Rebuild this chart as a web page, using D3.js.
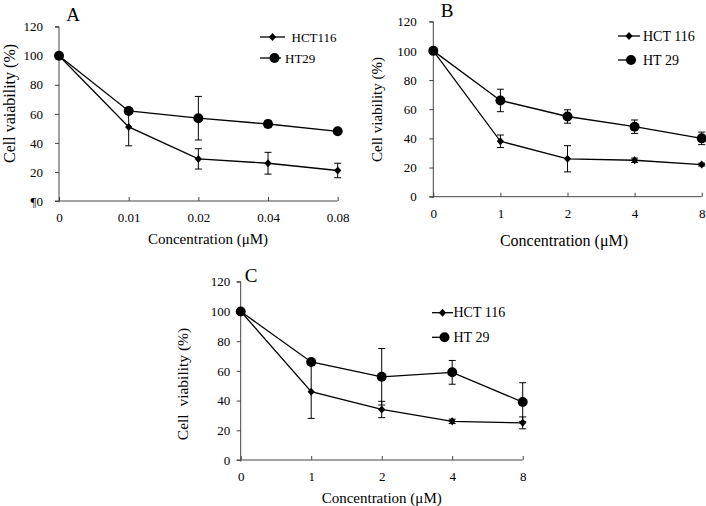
<!DOCTYPE html>
<html><head><meta charset="utf-8">
<script src="https://cdn.jsdelivr.net/npm/d3@7"></script>
<style>body{margin:0;background:#fff}svg{display:block}text{font-family:"Liberation Serif","Times New Roman",serif;fill:#000}</style>
</head><body>
<svg id="c" width="706" height="506"></svg>
<script>
// ---- data ----
const catsA = ["0","0.01","0.02","0.04","0.08"];
const catsBC = ["0","1","2","4","8"];
const yTicks = [0,20,40,60,80,100,120];

const A_hct = [100,51,29,26,21];
const A_hctErr = [0,13,7,7.5,5];
const A_ht = [100,62,57,53,48];
const A_htErr = [0,2,15,2.5,1];

const B_hct = [100,38,26,25,22];
const B_hctErr = [0,4.3,9,1.5,1];
const B_ht = [100,66,55,48,40];
const B_htErr = [0,7.7,4.6,4.6,4.3];

const C_hct = [100,46,34,26,25];
const C_hctErr = [0,18,5.5,1.5,4];
const C_ht = [100,66,56,59,39];
const C_htErr = [0,1,19,8,13];

const legendA = ["HCT116","HT29"];
const legendBC = ["HCT 116","HT 29"];
const yTitles = ["Cell vaiability (%)","Cell viability (%)","Cell  viability (%)"];
const xTitle = "Concentration (\u03bcM)";
const letters = ["A","B","C"];
const zeroLabels = ["\u00b60","0","0"];

// ---- layout ----
const panels = [
 {cats:catsA, hct:A_hct, hctE:A_hctErr, ht:A_ht, htE:A_htErr, leg:legendA,
  x:[59,337.7], y:[201,26.7], ylabPad:16, letter:[73,14], ytitle:[9,103.5,16], xtitle:[208,239,15],
  legLine:[260,285], legText:[291.5,285], legY:[37,58], legFs:13},
 {cats:catsBC, hct:B_hct, hctE:B_hctErr, ht:B_ht, htE:B_htErr, leg:legendBC,
  x:[433.3,701.7], y:[196.7,21.7], ylabPad:16.5, letter:[447,10.5], ytitle:[377,109.5,15], xtitle:[564,240,16],
  legLine:[618,640], legText:[643,643], legY:[36,60], legFs:14},
 {cats:catsBC, hct:C_hct, hctE:C_hctErr, ht:C_ht, htE:C_htErr, leg:legendBC,
  x:[240.7,522.7], y:[460,281.7], ylabPad:10.5, letter:[251,275], ytitle:[182,384,15.5], xtitle:[381.7,498,15],
  legLine:[432,453], legText:[453.5,453.5], legY:[312.7,337.3], legFs:14}
];

const svg = d3.select("#c");
const axisColor = "#444";

panels.forEach((p,pi)=>{
  const g = svg.append("g");
  const x = d3.scalePoint().domain(p.cats).range(p.x).padding(0);
  const y = d3.scaleLinear().domain([0,120]).range(p.y);

  // y axis
  const ya = g.append("g").attr("transform",`translate(${p.x[0]},0)`)
    .call(d3.axisLeft(y).tickValues(yTicks).tickSize(4).tickPadding(p.ylabPad-4)
      .tickFormat((d)=> d===0 ? zeroLabels[pi] : d));
  ya.select(".domain").attr("stroke",axisColor).attr("d",`M-4,${p.y[1]}H0V${p.y[0]+1.5}`);
  ya.selectAll(".tick line").attr("stroke",axisColor);
  ya.selectAll("text").attr("font-size",13).attr("font-family","Liberation Serif").attr("fill","#000");

  // x axis
  const xa = g.append("g").attr("transform",`translate(0,${p.y[0]})`)
    .call(d3.axisBottom(x).tickSize(-4).tickPadding(12));
  xa.select(".domain").attr("stroke",axisColor).attr("d",`M${p.x[0]-4},0H${p.x[1]}`);
  xa.selectAll(".tick line").attr("stroke",axisColor);
  xa.selectAll("text").attr("font-size",13).attr("font-family","Liberation Serif").attr("fill","#000");

  const line = d3.line().x((d,i)=>x(p.cats[i])).y(d=>y(d));
  [[p.hct,p.hctE,"diamond"],[p.ht,p.htE,"circle"]].forEach(([vals,errs,shape])=>{
    // error bars
    vals.forEach((v,i)=>{
      if(!errs[i]) return;
      const cx = x(p.cats[i]);
      g.append("path").attr("fill","none").attr("stroke","#000").attr("stroke-width",1)
        .attr("d",`M${cx},${y(v-errs[i])}V${y(v+errs[i])}M${cx-3.5},${y(v-errs[i])}h7M${cx-3.5},${y(v+errs[i])}h7`);
    });
    g.append("path").datum(vals).attr("fill","none").attr("stroke","#000").attr("stroke-width",1.3).attr("d",line);
    vals.forEach((v,i)=>{
      const cx = x(p.cats[i]), cy = y(v);
      if(shape==="circle") g.append("circle").attr("cx",cx).attr("cy",cy).attr("r",5).attr("fill","#000");
      else g.append("path").attr("d",`M${cx},${cy-4}L${cx+3.6},${cy}L${cx},${cy+4}L${cx-3.6},${cy}Z`).attr("fill","#000");
    });
  });

  // legend
  p.leg.forEach((name,li)=>{
    const ly = p.legY[li];
    g.append("line").attr("x1",p.legLine[0]).attr("x2",li===0?p.legLine[1]:p.legLine[1]-4).attr("y1",ly).attr("y2",ly)
      .attr("stroke","#000").attr("stroke-width",1.3);
    const mx = li===0 ? (p.legLine[0]+p.legLine[1])/2 : (p.legLine[0]+p.legLine[1])/2+2;
    if(li===0) g.append("path").attr("d",`M${mx},${ly-4}L${mx+3.6},${ly}L${mx},${ly+4}L${mx-3.6},${ly}Z`).attr("fill","#000");
    else g.append("circle").attr("cx",mx).attr("cy",ly).attr("r",5).attr("fill","#000");
    g.append("text").attr("x",p.legText[li]).attr("y",ly).attr("dominant-baseline","central")
      .attr("font-size",p.legFs).text(name);
  });

  // titles
  g.append("text").attr("x",p.letter[0]).attr("y",p.letter[1]).attr("text-anchor","middle")
    .attr("dominant-baseline","central").attr("font-size",19).text(letters[pi]);
  g.append("text").attr("transform",`translate(${p.ytitle[0]},${p.ytitle[1]}) rotate(-90)`)
    .attr("text-anchor","middle").attr("dominant-baseline","central").attr("font-size",p.ytitle[2])
    .style("white-space","pre").text(yTitles[pi]);
  g.append("text").attr("x",p.xtitle[0]).attr("y",p.xtitle[1]).attr("text-anchor","middle")
    .attr("dominant-baseline","central").attr("font-size",p.xtitle[2]).text(xTitle);
});
</script>
</body></html>
